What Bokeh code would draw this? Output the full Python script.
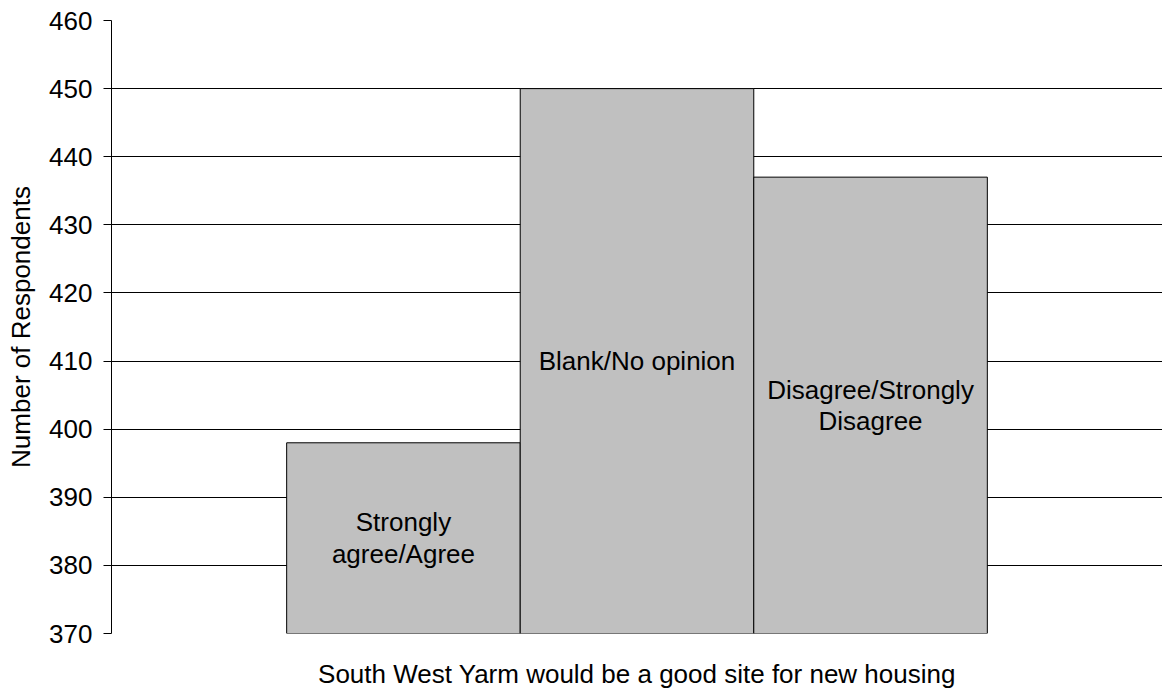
from bokeh.plotting import figure
from bokeh.models import Range1d, FixedTicker, ColumnDataSource
from bokeh.core.properties import value
from bokeh.embed import file_html
from bokeh.resources import INLINE

# ---- data ----
categories = ["Strongly\nagree/Agree", "Blank/No opinion", "Disagree/Strongly\nDisagree"]
respondents = [398, 450, 437]
y_ticks = [370, 380, 390, 400, 410, 420, 430, 440, 450, 460]
x_title = "South West Yarm would be a good site for new housing"
y_title = "Number of Respondents"

y_min, y_max = y_ticks[0], y_ticks[-1]
xs = list(range(1, len(categories) + 1))
label_y = [(y_min + v) / 2 for v in respondents]

src = ColumnDataSource(dict(x=xs, top=respondents, label=categories, ly=label_y))

FONT = "Liberation Sans"
FS = "26px"

p = figure(width=1162, height=691, output_backend="svg", toolbar_location=None,
           x_range=Range1d(-0.25, 4.25), y_range=Range1d(y_min, y_max),
           min_border_left=111, min_border_right=0, min_border_top=20, min_border_bottom=58,
           background_fill_color="white", border_fill_color="white")
p.outline_line_color = None

p.vbar(x="x", top="top", bottom=y_min, width=1.0, source=src,
       fill_color="#C0C0C0", line_color="black", line_width=1)

p.text(x="x", y="ly", text="label", source=src, text_align="center", text_baseline="middle",
       text_font=value(FONT), text_font_size=FS, text_color="black", text_line_height=1.05)

# y axis
p.yaxis.ticker = FixedTicker(ticks=y_ticks)
p.yaxis.axis_line_color = "black"
p.yaxis.major_tick_line_color = "black"
p.yaxis.major_tick_out = 8
p.yaxis.major_tick_in = 0
p.yaxis.minor_tick_line_color = None
p.yaxis.major_label_text_font = FONT
p.yaxis.major_label_text_font_size = FS
p.yaxis.major_label_text_color = "black"
p.yaxis.major_label_standoff = 11
p.yaxis.axis_label = y_title
p.yaxis.axis_label_text_font = FONT
p.yaxis.axis_label_text_font_size = FS
p.yaxis.axis_label_text_font_style = "normal"
p.yaxis.axis_label_text_color = "black"
p.yaxis.axis_label_standoff = 10

# x axis
p.xaxis.ticker = FixedTicker(ticks=[])
p.xaxis.axis_line_color = None
p.xaxis.major_tick_line_color = None
p.xaxis.minor_tick_line_color = None
p.xaxis.major_label_text_font_size = "0px"
p.xaxis.axis_label = x_title
p.xaxis.axis_label_text_font = FONT
p.xaxis.axis_label_text_font_size = FS
p.xaxis.axis_label_text_font_style = "normal"
p.xaxis.axis_label_text_color = "black"
p.xaxis.axis_label_standoff = 25

# grid
p.xgrid.grid_line_color = None
p.ygrid.ticker = FixedTicker(ticks=y_ticks)
p.ygrid.grid_line_color = "black"
p.ygrid.grid_line_width = 1

open("out.html", "w").write(file_html(p, INLINE))
